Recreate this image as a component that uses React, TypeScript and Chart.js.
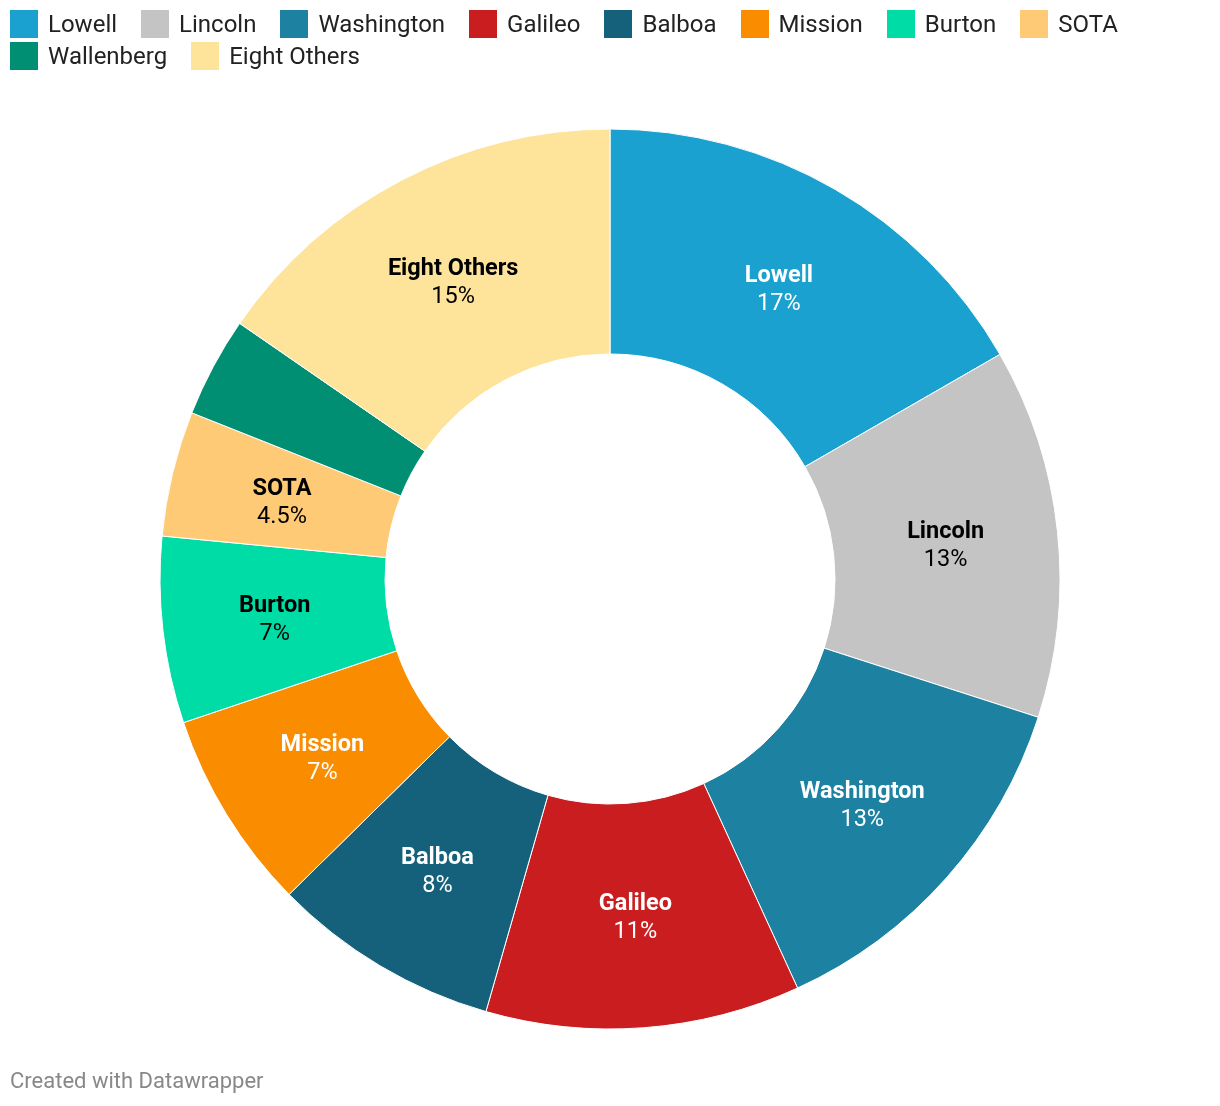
import React, { useEffect, useRef } from "react";
import { Chart, registerables } from "chart.js";

Chart.register(...registerables);

const schools = [
  "Lowell",
  "Lincoln",
  "Washington",
  "Galileo",
  "Balboa",
  "Mission",
  "Burton",
  "SOTA",
  "Wallenberg",
  "Eight Others",
];

const shares = [16.7, 13.3, 13.2, 11.3, 8.2, 7.2, 6.7, 4.5, 3.6, 15.4];

const colors = [
  "#1aa1cf",
  "#c4c4c4",
  "#1d81a2",
  "#c91d1f",
  "#15607a",
  "#fa8c00",
  "#00dca6",
  "#ffca76",
  "#008f72",
  "#fee49b",
];

const W = 1220;
const H = 1106;
const FONT = "Roboto, 'Noto Sans', sans-serif";

function luminance(hex: string): number {
  const n = parseInt(hex.slice(1), 16);
  const ch = [(n >> 16) & 255, (n >> 8) & 255, n & 255].map((c) => {
    const s = c / 255;
    return s <= 0.03928 ? s / 12.92 : Math.pow((s + 0.055) / 1.055, 2.4);
  });
  return 0.2126 * ch[0] + 0.7152 * ch[1] + 0.0722 * ch[2];
}

function formatShare(v: number): string {
  return v < 5 ? `${v.toFixed(1)}%` : `${Math.round(v)}%`;
}

const sliceLabels = {
  id: "sliceLabels",
  afterDatasetsDraw(chart: any) {
    const ctx = chart.ctx as CanvasRenderingContext2D;
    const meta = chart.getDatasetMeta(0);
    ctx.save();
    ctx.textAlign = "center";
    ctx.textBaseline = "middle";
    meta.data.forEach((arc: any, i: number) => {
      const v = shares[i];
      if (v < 4) return;
      const { x, y } = arc.getCenterPoint();
      ctx.fillStyle = luminance(colors[i]) > 0.45 ? "#000000" : "#ffffff";
      ctx.font = `bold 23.5px ${FONT}`;
      ctx.fillText(schools[i], x, y - 11);
      ctx.font = `23.5px ${FONT}`;
      ctx.fillText(formatShare(v), x, y + 17);
    });
    ctx.restore();
  },
};

export default function App() {
  const canvasRef = useRef<HTMLCanvasElement | null>(null);

  useEffect(() => {
    if (!canvasRef.current) return;
    const chart = new Chart(canvasRef.current, {
      type: "doughnut",
      data: {
        labels: schools,
        datasets: [
          {
            data: shares,
            backgroundColor: colors,
            borderColor: "#ffffff",
            borderWidth: 1,
            hoverOffset: 0,
          },
        ],
      },
      options: {
        responsive: false,
        animation: false,
        events: [],
        radius: 450,
        cutout: "50%",
        layout: { padding: { top: 104, bottom: 52, left: 0, right: 0 } },
        plugins: {
          legend: { display: false },
          tooltip: { enabled: false },
        },
      } as any,
      plugins: [sliceLabels],
    });
    return () => chart.destroy();
  }, []);

  return (
    <div
      style={{
        position: "absolute",
        left: 0,
        top: 0,
        width: W,
        height: H,
        background: "#ffffff",
        fontFamily: FONT,
      }}
    >
      <canvas
        ref={canvasRef}
        width={W}
        height={H}
        style={{ position: "absolute", left: 0, top: 0, display: "block" }}
      />
      <div
        style={{
          position: "absolute",
          left: 10,
          top: 10,
          width: 1200,
          display: "flex",
          flexWrap: "wrap",
          rowGap: 4,
        }}
      >
        {schools.map((s, i) => (
          <div
            key={s}
            style={{
              display: "flex",
              alignItems: "center",
              height: 28,
              marginRight: 24,
            }}
          >
            <span
              style={{
                display: "inline-block",
                width: 28,
                height: 28,
                background: colors[i],
                marginRight: 10,
              }}
            />
            <span
              style={{
                fontSize: 24,
                lineHeight: "28px",
                color: "#222222",
                whiteSpace: "nowrap",
              }}
            >
              {s}
            </span>
          </div>
        ))}
      </div>
      <div
        style={{
          position: "absolute",
          left: 10,
          top: 1070,
          fontSize: 22,
          lineHeight: "22px",
          color: "#888888",
          whiteSpace: "nowrap",
        }}
      >
        Created with Datawrapper
      </div>
    </div>
  );
}
